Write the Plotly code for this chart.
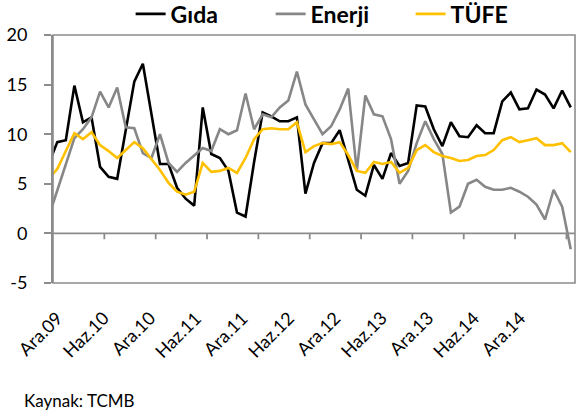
import plotly.graph_objects as go

# ---- data (monthly, Kas.09 .. Ara.14) ----
mon_abbr = ["Oca", "Şub", "Mar", "Nis", "May", "Haz", "Tem", "Ağu", "Eyl", "Eki", "Kas", "Ara"]
months = ["Kas.09", "Ara.09"] + [f"{m}.{y:02d}" for y in range(10, 15) for m in mon_abbr]

gida = [7.0, 9.2, 9.4, 14.9, 11.2, 11.7, 6.7, 5.7, 5.5, 10.4, 15.3,
        17.1, 12.2, 7.0, 7.0, 4.6, 3.5, 2.8, 12.7, 8.0, 7.6,
        6.3, 2.1, 1.7, 7.2, 12.2, 11.8, 11.3, 11.3, 11.7, 4.0,
        7.1, 9.1, 9.1, 10.4, 7.4, 4.4, 3.8, 6.9, 5.5, 8.1,
        6.8, 7.1, 12.9, 12.8, 10.5, 8.8, 11.2, 9.8, 9.7, 10.9,
        10.1, 10.1, 13.3, 14.2, 12.5, 12.6, 14.5, 14.0, 12.6, 14.4, 12.7]

enerji = [1.7, 4.4, 7.0, 9.6, 10.5, 11.7, 14.3, 12.7, 14.7, 10.7, 10.6,
          8.1, 7.6, 10.0, 7.1, 6.2, 7.1, 7.9, 8.6, 8.3, 10.5,
          10.0, 10.4, 14.1, 10.5, 12.0, 11.7, 12.7, 13.4, 16.3, 13.0,
          11.5, 10.0, 10.8, 12.5, 14.6, 6.3, 13.9, 12.0, 11.8, 9.5,
          5.0, 6.3, 9.1, 11.3, 9.5, 8.0, 2.1, 2.7, 5.0, 5.4,
          4.7, 4.4, 4.4, 4.6, 4.2, 3.7, 2.9, 1.4, 4.4, 2.7, -1.6]

tufe = [5.5, 6.5, 8.3, 10.1, 9.5, 10.2, 8.9, 8.3, 7.6, 8.4, 9.2,
        8.6, 7.5, 6.4, 5.1, 4.2, 3.9, 4.2, 7.1, 6.2, 6.3,
        6.6, 6.1, 7.6, 9.5, 10.5, 10.6, 10.5, 10.5, 11.2, 8.2,
        8.8, 9.1, 9.0, 9.2, 7.9, 6.3, 6.1, 7.2, 7.0, 7.2,
        6.1, 6.6, 8.4, 8.9, 8.2, 7.8, 7.6, 7.3, 7.4, 7.8,
        7.9, 8.4, 9.4, 9.7, 9.2, 9.4, 9.6, 8.9, 8.9, 9.1, 8.2]

tick_labels = ["Ara.09", "Haz.10", "Ara.10", "Haz.11", "Ara.11", "Haz.12",
               "Ara.12", "Haz.13", "Ara.13", "Haz.14", "Ara.14"]
y_ticks = [-5, 0, 5, 10, 15, 20]
y_tick_text = ["-5", "0", "5", "10", "15", "20"]

series = [("Gıda", gida, "#000000"), ("Enerji", enerji, "#878787"), ("TÜFE", tufe, "#FFC000")]

idx = list(range(len(months)))
FONT = "Lato"
GRAY = "#8C8C8C"

fig = go.Figure()
for name, vals, color in series:
    fig.add_trace(go.Scatter(
        x=idx, y=vals, name=name, mode="lines", customdata=months,
        hovertemplate="%{customdata}: %{y}<extra>" + name + "</extra>",
        line=dict(color=color, width=2.6),
    ))

x_range = [0.5, len(months) - 0.5]
boundary_ticks = [0.5 + 6 * j for j in range(1, len(tick_labels))]  # 6.5, 12.5, ...
y_min, y_max = -5, 20
zero_frac = (0 - y_min) / (y_max - y_min)

fig.update_layout(
    width=579, height=414,
    margin=dict(l=53, r=4, t=35, b=131, autoexpand=False),
    paper_bgcolor="white", plot_bgcolor="rgba(0,0,0,0)",
    font=dict(family=FONT, size=18, color="#000000"),
    showlegend=True,
    legend=dict(orientation="h", x=0.551, xanchor="center", y=1.085, yanchor="middle",
                font=dict(family=FONT, size=23, weight="bold"),
                entrywidth=95, entrywidthmode="pixels",
                bgcolor="rgba(0,0,0,0)"),
    xaxis=dict(range=x_range, showgrid=False, zeroline=False, showticklabels=False,
               showline=False, ticks=""),
    yaxis=dict(range=[y_min, y_max], tickvals=y_ticks, ticktext=y_tick_text,
               showgrid=False, zeroline=False,
               showline=True, linecolor=GRAY, linewidth=2,
               ticks="outside", ticklen=7, tickwidth=1.5, tickcolor=GRAY,
               ticklabelstandoff=13,
               tickfont=dict(family=FONT, size=18, color="#000000")),
)

# plot-area frame
fig.add_shape(type="rect", xref="paper", yref="paper", x0=0, y0=0, x1=1, y1=1,
              line=dict(color=GRAY, width=1.6), layer="above")
# category axis along y = 0 (drawn as a thin rectangle so it always renders)
fig.add_shape(type="rect", xref="paper", yref="y", x0=0, x1=1,
              y0=0, y1=0, line=dict(color=GRAY, width=1.8),
              fillcolor=GRAY, layer="above")
# 6-month tick marks pointing down from the y = 0 axis
for t in boundary_ticks:
    fig.add_shape(type="rect", xref="x", yref="y", x0=t, x1=t, y0=0, y1=-0.6,
                  line=dict(color=GRAY, width=1.8), fillcolor=GRAY, layer="above")

# rotated category labels below the plot area (spaced as in the source chart)
plot_w = 579 - 53 - 4
plot_h = 414 - 35 - 131
label_first_px, label_step_px, label_top_px = 17, 46.3, 21
for j, lab in enumerate(tick_labels):
    fig.add_annotation(text=lab, xref="paper", yref="paper",
                       x=(label_first_px + label_step_px * j) / plot_w,
                       y=-label_top_px / plot_h,
                       xanchor="right", yanchor="top", textangle=-45,
                       showarrow=False, font=dict(family=FONT, size=18, color="#000000"))

fig.add_annotation(text="Kaynak: TCMB", xref="paper", yref="paper",
                   x=-0.059, y=-0.472, xanchor="left", yanchor="middle",
                   showarrow=False, font=dict(family=FONT, size=17, color="#000000"))

fig.write_html("out.html", config={"displayModeBar": False},
               post_script="document.body.style.margin='0px';")
